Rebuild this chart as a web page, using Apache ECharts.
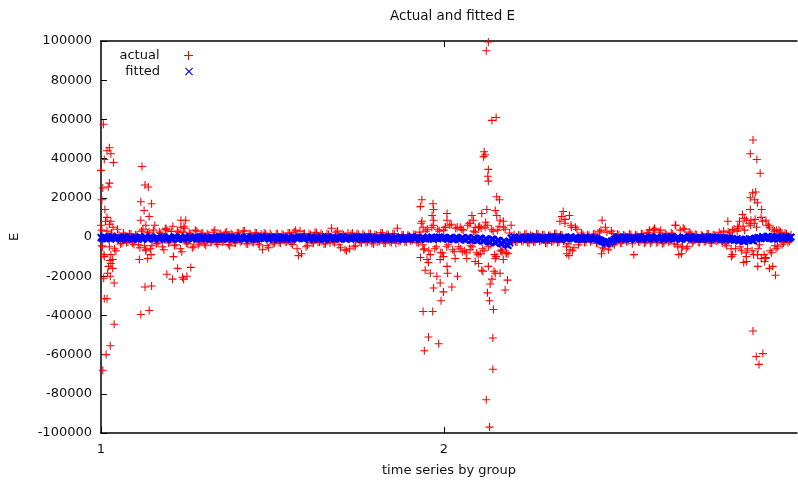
<!DOCTYPE html>
<html>
<head>
<meta charset="utf-8">
<title>Actual and fitted E</title>
<script src="https://cdn.jsdelivr.net/npm/echarts@6/dist/echarts.min.js"></script>
<style>
  html, body { margin: 0; padding: 0; background: #fff; }
  #chart { width: 798px; height: 482px; }
</style>
</head>
<body>
<div id="chart"></div>
<script>
// x = observation index (the groups are stacked one after another)
const groupLabels = ['1', '2'];
const groupStarts = [0, 114.5];
const obsStep = 0.5;

// fitted E, one value per observation
const fittedE = [
  -300, -800, 200, -1000, -900, -200, -600, 100, 100, -700, -1100, -300, -400, -1000, -700, 0, 0, -900, -1000, -400,
  -200, -1100, -800, -100, -500, -1200, 150, -600, -1200, -200, -300, -900, -700, 150, -100, -1050, -950, -350, -450, -1150,
  -600, 0, 50, -900, -1100, -250, -350, -1000, -800, 100, -150, -1100, -1000, -300, -500, -1200, 100, -600, -900, -100,
  -250, -1050, -700, 50, -1150, -350, -400, -950, 0, -750, -850, -200, -550, -1100, -200, -900, -1050, -150, -650, 100,
  -300, -1100, -900, 0, 100, -800, -600, -100, -1200, -400, -350, -1000, -750, 150, -50, -900, -1000, -250, -450, -1150,
  -800, 50, -200, -1000, -1100, -300, -550, 100, 50, -850, -700, -150, -950, -400, -300, -1100, -600, 0, -1150, -350,
  -400, -1050, 0, -700, -850, -150, -500, -1200, -1050, 50, -250, -900, -700, -100, 150, -650, -950, -300, -600, -1150,
  -350, 100, -1100, -450, -150, -1000, -800, 0, -450, -1200, -1000, -200, -50, -850, -650, 100, -900, -400, -300, -1100,
  -750, -50, 100, -900, -1150, -300, -500, -1000, -200, -700, -950, 100, -650, -250, -1050, -450, -350, -1200, 0, -650,
  -800, -100, -550, -1100, -1100, -200, -250, -950, -700, 0, 50, -800, -1000, -300, -400, -1150, -850, 50, -600, -1000,
  -150, -950, -1100, -300, -450, -1200, -750, 50, 100, -600, -900, -200, -300, -1100, -1050, -100, -550, -1000, -200, -850,
  -800, 0, -1200, -450, -400, -1000, 0, -700, -700, -200,
  -300, -1000, -1200, -200, -500, -1400, -1300, -300, -200, -1200, -1100, -500, -700, -1500, -1500, -300, -400, -1700, -1600, -600,
  -900, -1900, -1800, -500, -700, -2100, -2000, -900, -1300, -2400, -2600, -1000, -1100, -2800, -2900, -1600, -1800, -3300, -3500, -2000,
  -2400, -4000, -4300, -2800,
  -500, -1100, 100, -700, -900, -200,
  -400, -1100, -1000, -200, -150, -850, -700, 50, -1100, -350, 50, -900, -550, -1200, -850, -100, -300, -1000, -1000, -400,
  -600, 100, 0, -750, -800, -200, -450, -1150, -1100, -50, -250, -900, -700, -300, 100, -1000, -950, -150, -500, -1200,
  -350, -1100, -900, -100, -150, -1000, -1050, -300, -600, -1200, -200, -900, -1100, -1500, -1800, -2300, -2600, -3000, -3400, -2400,
  -2900, -2000, -1900, -1200, -800, -200, -300, -1100, -950, 0, 50, -800, -650, -1200, -1000, -250, -400, -1100, -700, 50,
  -100, -900, -1050, -250, -500, -1200, -800, 0, 100, -650, -950, -150, -350, -1100, -700, 50, -1150, -400, -250, -1000,
  -600, 100, 0, -850, -900, -200, -450, -1150, -1050, -100, -200, -950, -750, 50, 150, -700, -1000, -300, -550, -1200,
  -300, -1000, -850, -50, -100, -950, -1100, -300, -650, 0, -400, -1150, -950, -200, 50, -800, -750, -1300, -1200, -400,
  -500, -1400, -900, -1700, -1500, -800, -2000, -1100, -1400, -2200, -2300, -1300, -1700, -900, -1000, -1800, -1900, -700, -800, -200,
  -300, -900, 200, -600, -700, 300, 400, -400, -500, -1000, -1000, 100, 300, -700, -200, -900, -800, 200, 100, -700,
  -600, 0
];

// actual E, one value per observation (same index as fitted)
const actualE = [
  6000, -5000, -9000, 8000, 3000, -15000, -12000, 2000, 5000, -6000, -7000, 4000,
  1200, -3500, -3200, 2000, 800, -2800, -2600, 1600, 1500, -3000, -3800, 1200, 900, -4000,
  -5500, 3000, 4000, -4500, -7000, 2000, 2500, -6000, -4500, 3500, 6000, -3500, -3000, 2500, 1800, -5000, -6500, 4000, 3500, -3000,
  -2500, 2800, 5500, -4500, -4000, 3000, 2200, -6000, -7500, 2500, 4500, -3000, -3500, 2000, 1500, -5500, -5000, 3500, 3000, -4000,
  -3000, 1800, 2000, -3500, -4200, 1500, 1200, -2800, -2500, 2400, 3500, -3000, -3800, 1400, 1800, -2600, -2200, 2200, 2600, -3800,
  -4500, 1600, 1000, -3000, -3000, 2000, 2200, -2400, -2000, 3000, 3200, -3400, -3600, 1800, 1400, -2600, -2800, 2200, 2000, -3600, -4000, 1500,
  -6500, 2000, 1500, -4500, -5500, 1800, 800, -3500, -3000, 1600,
  1600, -2800, -3200, 1400, 900, -2400, -2600, 2000, 2000, -3200, -3800, 2500, 3500, -6000, -9500, 3000, -8500, 1500,
  1800, -5000, -4200, 1600, 1200, -3000, -3000, 2400, 2200, -2600, -2600, 1800, 1000, -3600, -3400, 1600,
  1400, -3000, 4500, -2600, -2800, 2400, 3000, -4000, -5500, 1600, 1200, -6500, -7000, 2000, -6000, 1400, 2000, -5000, -4500, 1800,
  1300, -2600, -3000, 1600, 800, -2800, -2400, 1800, 1700, -3000, -3600, 1200, 1000, -2600, -2200, 2200, 2000, -3000,
  -3200, 1400, 1200, -2400, -2800, 1800, 1500, -3200, 4500, -2400,
  -2000, 1200, 1000, -2400, -2600, 900, 700, -2200, -1800, 1400, 1200, -2800, -3000, 2500,
  7000, -4000, -6000, 3000, 4000, -7000, -9000, 5000, 6000, -6000, -5000, 4000, 3000, -8000, -8000, 3500, 5000, -5000, -4000, 6000,
  6500, -6500, -7500, 4500,
  5000, -5000, -6000, 4000, 3500, -7000, -8000, 6000, 7000, -4500, -5000, 3000, 2500, -8000, -9000, 5500, 4500, -6000, -7000, 7500,
  6000, -5000, -4000, 4000, 3000, -9000, -10000, 3500, 5500, -7000, -6500, 5000, 4000, -8000, -8500, 2000, 6000, -3000,
  1200, -2400, -2600, 1000, 800, -2200, -2000, 1400, 1600, -2800, -3000, 900, 700, -2600, -2400, 1600, 1400, -2000,
  -1800, 1200, 1100, -3000, -3200, 800, 900, -2400, -2200, 1600, 1800, -2800, -2600, 1100, 1000, -2200,
  9000, -5000, -3500, 11000, 6000, -7000, -5500, 5000, 4000, -4000, -2800, 2000,
  1300, -2800, -2500, 1200, 900, -2400, -2000, 1400, 1500, -3200, -3000, 2600,
  3500, -5500, -6000, 5000, 2500, -6500, -5000, 3000, 1800, -4000,
  -2600, 1400, 1100, -3200, -3000, 1000, 800, -2400, -2200, 1500, 1300, -3400, -9000, 1200, 900, -2600, -2400, 1800, 1500, -3000,
  -2800, 2200,
  2000, -3000, -2400, 3500, 4000, -2800, -2600, 2400, 3500, -3400, -3000, 1800, 1200, -2600, -2200, 2000,
  1500, -3500, 6000, -4000, -9000, 3500, -5000, 4500, 4000, -6000, -5000, 2500, 1800, -3000,
  -2000, 1400, 1100, -2600, -2800, 1000, 700, -2400, -2200, 1600, 1500, -3000, -3200, 1200, 900, -2200, -1800, 2400, 1300, -3000,
  3000, -3500, -4500, 2500, 2000, -6000, -9000, 4000, -6000, 3000, 4500, -5000, -7000, 5500, 3500, -8000, -6000, 7000, 6000, -7000,
  -9000, 9000, 5000, -6000, -4000, 10000, 8000, -9000, -11000, 6000, 6000, -7000, -8000, 4000, 3000, -6000, -5000, 3500, 2500, -4000,
  -3000, 2000, 1500, -2800, -2000, 1200
];

// the big swings of actual E, [observation, E]
const spikesGroup1 = [
  [0.8, 57500], [2.0, 44000], [2.8, 45500], [3.3, 42500], [1.1, 39500], [4.2, 38000], [0, 34000], [0.6, 25000],
  [2.8, 27500], [2.4, 25500], [0.3, 19000], [1.3, 14000], [2.0, 10000], [3.3, 8000], [2.8, 6500], [0.3, 3500],
  [0.6, -68000], [1.7, -60000], [3.1, -55500], [4.4, -44500], [1.1, -31500], [2.0, -31500], [0.9, -21000], [2.2, -18500],
  [3.1, -20000], [4.4, -23500], [3.9, -16000], [3.3, -13500], [3.9, -11500], [2.8, -5000], [1.1, -10000], [3.3, -9000], [0.3, -4500],
  [13.7, 36000], [14.7, 26500], [15.8, 25500], [13.3, 18000], [16.9, 17000], [14.4, 13500], [16.1, 10500], [13.3, 8500],
  [15, 6000], [26.7, 8500], [28.3, 8500], [26.7, 5000], [27.7, 5500], [21.7, 4500],
  [13.3, -39500], [16.1, -37500], [14.7, -25500], [16.9, -25000], [12.8, -11500], [15.6, -11000], [15, -6500], [16.7, -9000],
  [22, -19000], [23.9, -21500], [25.6, -16000], [27.2, -20500], [28.7, -20000], [30, -15500], [27.6, -21500], [24.2, -10000]
];

const spikesGroup2 = [
  [107.2, 19000], [106.7, 15500], [110.9, 17000], [111.1, 14000], [110.6, 11000], [111.1, 8500], [107.2, 8000], [107.6, 5000],
  [115.6, 12000], [115.6, 8500], [115, 5000],
  [107.6, -38000], [110.8, -38000], [109.4, -51000], [108, -58000], [112.8, -54500], [113.6, -32500], [111.1, -26000], [114.4, -28000],
  [117.2, -25500], [108.3, -17000], [110, -18500], [112.2, -20000], [113.3, -23500], [115.8, -18500], [119.1, -20000], [107.8, -6500],
  [108.9, -11500], [114.4, -10000], [115.6, -15000], [106.7, -10500], [109.4, -13000], [113.3, -11500], [118.3, -11000],
  [129.4, 99500], [128.7, 95000], [130.6, 59500], [132, 61000], [128, 43500], [128.3, 42000], [127.8, 41000], [129.4, 34500],
  [129.2, 31000], [129.4, 28500], [132.2, 20500], [133.1, 19000], [128.9, 14000], [127.2, 12000], [131.7, 13500], [132.2, 11000],
  [133.3, 8500], [134.4, 8000], [123.9, 11000], [124.4, 8500], [123.3, 7000], [125, 5000], [120, 5000], [126.1, 5000], [128.3, 5000],
  [128.7, -83000], [129.8, -97000], [130.9, -67500], [130.9, -51500], [131.1, -37000], [129.8, -32500], [129.1, -28500], [130, -24000],
  [130.6, -21500], [133.3, -18500], [131.3, -17500], [127.6, -17500], [135, -27000], [135.8, -22000], [134.4, -11500], [135.3, -8500],
  [122.2, -11000], [125, -12500], [126.1, -13500], [127.2, -17000], [129.4, -15000], [131.7, -18500], [131.7, -11000], [133.9, -7500],
  [123.3, -6500], [126.7, -8500], [120.7, -7500],
  [154.4, 13000], [153.9, 10500], [153.3, 8000], [155, 7000], [157.2, 5000], [167.4, 8500], [191.8, 6000], [184.9, 4500],
  [183.2, 3500], [209.4, 8000],
  [155.6, -8500], [156.3, -9500], [156.7, -6500], [167.2, -8500], [193.9, -8500], [194.3, -5000], [192.7, -5000],
  [217.8, 49500], [216.9, 42500], [219.1, 39500], [220.2, 32500], [217.7, 22500], [216.9, 20000], [218.4, 19000], [219.3, 17500],
  [220.7, 14000], [216.9, 14000], [218.7, 23000], [214.3, 11500], [214.9, 9500], [222.1, 8500], [217.1, 8500], [218.2, 7000],
  [211, 3500], [215.6, 8500], [213.3, 8000], [212.7, 5500], [223.3, 5000], [225.7, 3500],
  [217.8, -48000], [218.9, -61000], [221.1, -59500], [219.8, -65000], [219.4, -15000], [220.6, -11000], [221.7, -12500], [223.3, -16000],
  [224.4, -15000], [225.3, -19500], [215.6, -12500], [215.6, -10000], [210.6, -10000], [214.7, -13000], [219.3, -9000], [222.1, -10500],
  [225.1, -4500]
];

// gnuplot style point types
const plusSymbol = 'path://M3.9,0H5.1V3.9H9V5.1H5.1V9H3.9V5.1H0V3.9H3.9Z';
// x drawn with heavier strokes so the dense fitted band closes up
const crossSymbol = 'path://M0,1.6L1.6,0L4.5,2.9L7.4,0L9,1.6L6.1,4.5L9,7.4L7.4,9L4.5,6.1L1.6,9L0,7.4L2.9,4.5Z';
// thin x for the key
const crossKey = 'path://M0,0.9L0.9,0L4.5,3.6L8.1,0L9,0.9L5.4,4.5L9,8.1L8.1,9L4.5,5.4L0.9,9L0,8.1L3.6,4.5Z';

const font = 'DejaVu Sans';
const textColor = '#111';

const actualData = actualE.map((v, i) => [i * obsStep, v]).concat(spikesGroup1, spikesGroup2);
const fittedData = fittedE.map((v, i) => [i * obsStep, v]);

const chart = echarts.init(document.getElementById('chart'), null, { renderer: 'canvas' });

const option = {
  animation: false,
  backgroundColor: '#fff',
  title: {
    text: 'Actual and fitted E',
    left: 385,
    top: 4,
    textStyle: { fontFamily: font, fontSize: 13.5, fontWeight: 'normal', color: textColor }
  },
  // two one-item legends so both marks line up on the right
  legend: [
    {
      data: [{ name: 'actual', icon: plusSymbol }],
      right: 600, top: 44,
      align: 'right',
      itemWidth: 48, itemHeight: 9,
      textStyle: { fontFamily: font, fontSize: 13, color: textColor }
    },
    {
      data: [{ name: 'fitted', icon: crossKey }],
      right: 600, top: 60,
      align: 'right',
      itemWidth: 48, itemHeight: 8,
      textStyle: { fontFamily: font, fontSize: 13, color: textColor }
    }
  ],
  grid: { left: 100, right: 1, top: 41, bottom: 49 },
  xAxis: [
    {
      type: 'value',
      min: 0,
      max: 232.5,
      name: 'time series by group',
      nameLocation: 'middle',
      nameGap: 31,
      nameTextStyle: { fontFamily: font, fontSize: 13, color: textColor },
      axisLine: { onZero: false, lineStyle: { color: '#000', width: 1.5 } },
      axisTick: { inside: true, length: 6, customValues: groupStarts, lineStyle: { color: '#000' } },
      axisLabel: {
        customValues: groupStarts,
        formatter: (v) => {
          const k = groupStarts.indexOf(v);
          return k >= 0 ? groupLabels[k] : '';
        },
        margin: 10,
        fontFamily: font, fontSize: 13, color: textColor
      },
      splitLine: { show: false }
    },
    {
      type: 'value',
      position: 'top',
      min: 0,
      max: 232.5,
      axisLine: { onZero: false, lineStyle: { color: '#000', width: 1.5 } },
      axisTick: { inside: true, length: 6, customValues: [groupStarts[1]], lineStyle: { color: '#000' } },
      axisLabel: { show: false },
      splitLine: { show: false }
    }
  ],
  yAxis: {
    type: 'value',
    min: -100000,
    max: 100000,
    interval: 20000,
    name: 'E',
    nameLocation: 'middle',
    nameRotate: 90,
    nameGap: 80,
    nameTextStyle: { fontFamily: font, fontSize: 13, color: textColor },
    axisLine: { onZero: false, lineStyle: { color: '#000', width: 1.5 } },
    axisTick: { inside: true, length: 6, lineStyle: { color: '#000' } },
    axisLabel: { margin: 9, formatter: (v) => String(v), fontFamily: font, fontSize: 13, color: textColor },
    splitLine: { show: false }
  },
  series: [
    {
      name: 'actual',
      type: 'scatter',
      clip: false,
      symbol: plusSymbol,
      symbolSize: 8,
      itemStyle: { color: '#ff0000', opacity: 1 },
      data: actualData
    },
    {
      name: 'fitted',
      type: 'scatter',
      clip: false,
      symbol: crossSymbol,
      symbolSize: 8,
      itemStyle: { color: '#0000ff', opacity: 1 },
      data: fittedData
    }
  ]
};

chart.setOption(option);
</script>
</body>
</html>
